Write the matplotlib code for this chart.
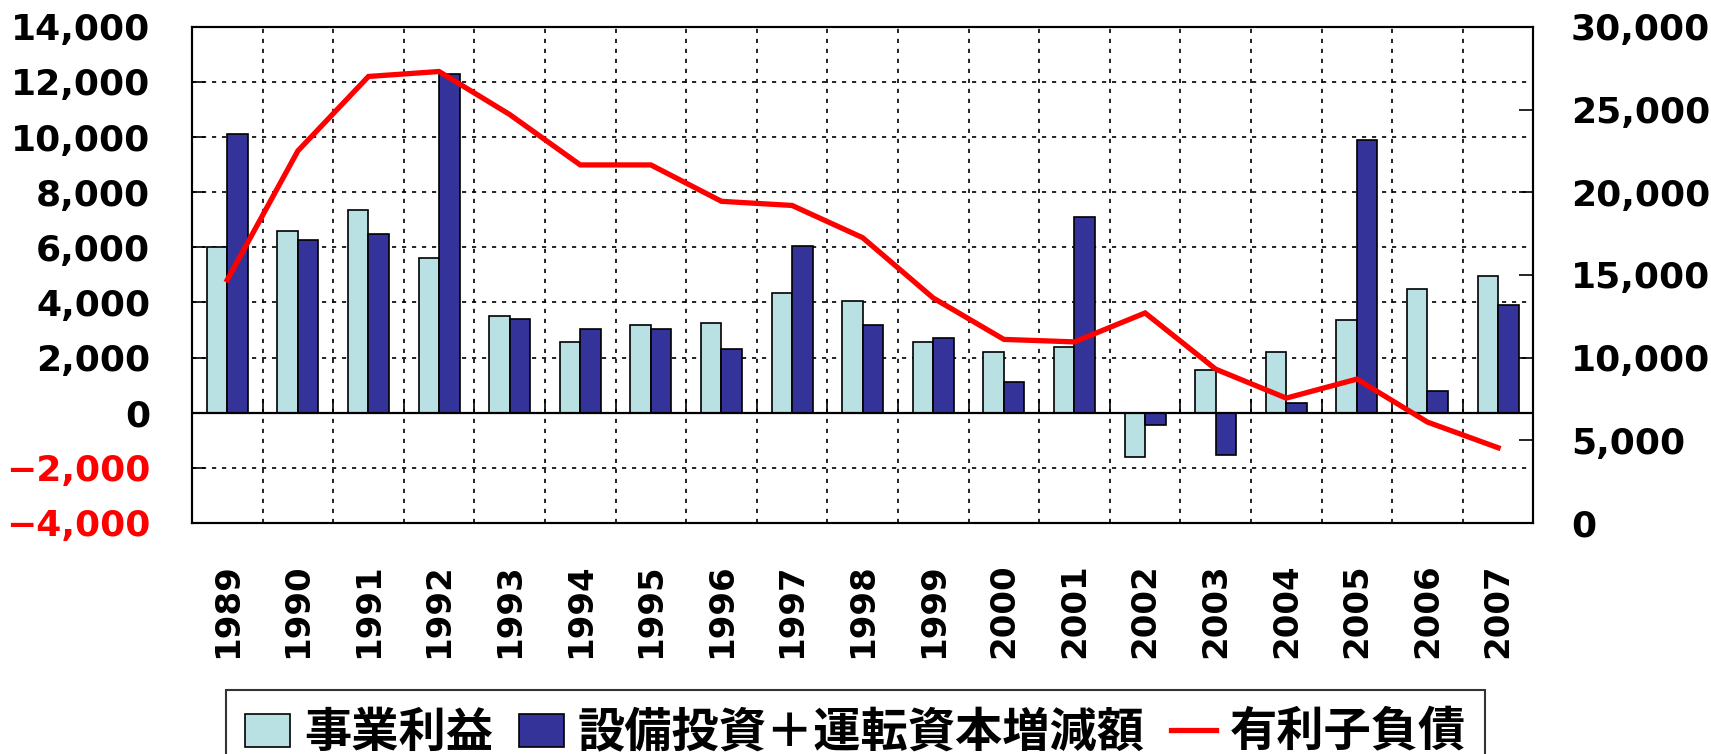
import numpy as np
import matplotlib
matplotlib.use('Agg')
import matplotlib.pyplot as plt
from matplotlib.font_manager import FontProperties

plt.rcParams['font.family'] = ['Noto Sans CJK JP', 'DejaVu Sans']

years = ['1989', '1990', '1991', '1992', '1993', '1994', '1995', '1996', '1997', '1998',
         '1999', '2000', '2001', '2002', '2003', '2004', '2005', '2006', '2007']
jigyo_rieki = [6000, 6600, 7350, 5600, 3500, 2550, 3200, 3250, 4350, 4050,
               2550, 2200, 2400, -1600, 1550, 2200, 3350, 4500, 4950]
setsubi_unten = [10100, 6250, 6470, 12300, 3400, 3050, 3050, 2300, 6050, 3200,
                 2700, 1100, 7100, -450, -1550, 350, 9900, 800, 3900]
yurishi_fusai = [14700, 22500, 27000, 27300, 24700, 21650, 21650, 19450, 19200, 17250,
                 13600, 11100, 10950, 12700, 9300, 7550, 8700, 6100, 4550]
labels = ['事業利益', '設備投資＋運転資本増減額', '有利子負債']

left_ticks = list(range(-4000, 14001, 2000))
right_ticks = list(range(0, 30001, 5000))

light = '#B9E0E3'
dark = '#333399'
red = '#FF0000'

fig = plt.figure(figsize=(17.11, 7.54), dpi=100)
ax = fig.add_axes([0.1122, 0.3064, 0.784, 0.658])
ax2 = ax.twinx()

x = np.arange(len(years))
w = 0.29
b1 = ax.bar(x - w / 2, jigyo_rieki, width=w, color=light, edgecolor='black', linewidth=1.2, zorder=2)
b2 = ax.bar(x + w / 2, setsubi_unten, width=w, color=dark, edgecolor='black', linewidth=1.2, zorder=2)
ax.axhline(0, color='black', lw=1.6, zorder=3)
# small tick marks on the zero line between categories
ax.vlines(np.arange(0.5, len(years) - 1, 1), 0, 480, color='black', lw=1.2, zorder=3)

ln, = ax2.plot(x, yurishi_fusai, color=red, lw=3.8, solid_joinstyle='miter', zorder=4)

ax.set_xlim(-0.5, len(years) - 0.5)
ax.set_ylim(-4000, 14000)
ax2.set_ylim(0, 30000)

ax.set_axisbelow(True)
ax.set_xticks(x)
ax.set_xticklabels(years, rotation=90, fontsize=24.5, fontweight='bold', family='DejaVu Sans')
ax.set_xticks(np.arange(0.5, len(years) - 1, 1), minor=True)
ax.tick_params(axis='x', which='both', length=0, pad=29)
ax.grid(which='minor', axis='x', color='black', lw=1.2, linestyle=(0, (2.5, 3.5)))
ax.grid(which='major', axis='y', color='black', lw=1.2, linestyle=(0, (2.5, 3.5)))
ax.grid(which='major', axis='x', visible=False)

ax.set_yticks(left_ticks)
ax.set_yticklabels([f'{v:,}'.replace('-', '\u2212') for v in left_ticks],
                   fontsize=26, fontweight='bold', family='DejaVu Sans')
for v, t in zip(left_ticks, ax.get_yticklabels()):
    if v < 0:
        t.set_color(red)
ax.tick_params(axis='y', direction='in', length=9.5, width=1.2, pad=30)

ax2.set_yticks(right_ticks)
ax2.set_yticklabels([f'{v:,}' for v in right_ticks], fontsize=26, fontweight='bold', family='DejaVu Sans')
ax2.tick_params(axis='y', direction='in', length=10, width=1.2, pad=27)

for a in (ax, ax2):
    for s in a.spines.values():
        s.set_linewidth(1.5)
        s.set_color('black')

leg = fig.legend([b1, b2, ln], labels, loc='upper center', bbox_to_anchor=(0.5, 0.085), ncol=3,
                 frameon=True, fancybox=False, edgecolor='black',
                 prop=FontProperties(family=['Noto Sans CJK JP', 'DejaVu Sans'], weight='bold', size=34),
                 handlelength=0.95, handleheight=0.7, handletextpad=0.3, columnspacing=0.55,
                 borderpad=0.4, borderaxespad=0)
leg.get_frame().set_linewidth(1.5)

fig.savefig('out.png', dpi=100)
